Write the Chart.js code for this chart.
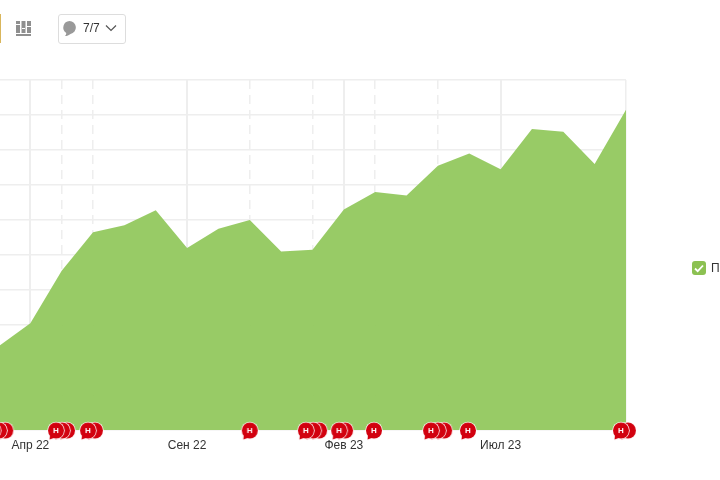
<!DOCTYPE html>
<html><head><meta charset="utf-8">
<style>
html,body{margin:0;padding:0;width:720px;height:480px;overflow:hidden;background:#fff;font-family:"Liberation Sans",Arial,sans-serif}
#wrap{position:absolute;left:-10px;top:0;width:729px;height:480px}
#accent{position:absolute;left:0;top:14px;width:1px;height:29px;background:#d9b65c}
#icon{position:absolute;left:15px;top:20px}
#btn{position:absolute;left:58px;top:14px;width:66px;height:28px;border:1px solid #ddd;border-radius:3px;box-sizing:content-box}
#btn svg{position:absolute}
#btn span{position:absolute;left:24px;top:6px;font-size:12px;color:#333}
#check{position:absolute;left:692px;top:261px;width:14px;height:14px;border-radius:3px;background:#8cc152}
#name{position:absolute;left:711px;top:261px;font-size:12px;color:#333}
</style></head><body>
<div id="wrap"><canvas id="c" width="729" height="480"></canvas></div>
<div id="accent"></div>
<svg id="icon" width="17" height="17" viewBox="0 0 17 17"><g fill="#8f8f8f"><rect x="1" y="1" width="4" height="12"/><rect x="6.500" y="1" width="4" height="12"/><rect x="12" y="1" width="4" height="12"/><rect x="1" y="14" width="15" height="2"/></g><g fill="#fff"><rect x="1" y="4" width="4" height="1"/><rect x="7" y="8" width="3" height="1"/><rect x="12" y="6" width="4" height="1"/></g></svg>
<div id="btn">
<svg style="left:3px;top:5px" width="15" height="17" viewBox="0 0 15 17"><path d="M7.500 1a6.500 6.500 0 0 1 1 12.900C7 15 5 16 3 16c1-1 1.300-2 1.200-3.100A6.500 6.500 0 0 1 7.500 1z" fill="#999"/></svg>
<span>7/7</span>
<svg style="left:46px;top:9px" width="12" height="8" viewBox="0 0 12 8"><path d="M1 1.500l5 5 5-5" fill="none" stroke="#555" stroke-width="1.200"/></svg>
</div>
<div id="check"><svg width="14" height="14" viewBox="0 0 14 14"><path d="M3 7.500l2.700 2.700L11 4.500" fill="none" stroke="#fff" stroke-width="1.800"/></svg></div>
<div id="name">П</div>
<script src="https://cdn.jsdelivr.net/npm/chart.js@4"></script>
<script>
const months = ["Мар 22","Апр 22","Май 22","Июн 22","Июл 22","Авг 22","Сен 22","Окт 22","Ноя 22","Дек 22","Янв 23","Фев 23","Мар 23","Апр 23","Май 23","Июн 23","Июл 23","Авг 23","Сен 23","Окт 23","Ноя 23"];
const values = [2.4,3.05,4.55,5.65,5.85,6.28,5.2,5.75,6.0,5.1,5.15,6.3,6.8,6.7,7.55,7.9,7.45,8.6,8.52,7.6,9.15];
const axisLabelMonths = [1,6,11,16];
const solidGridMonths = [1,6,11,16];
const dashedGridMonths = [2,3,8,10,12,14];
const edgeGridMonths = [20];
const eventMonths = [20.06,19.84,14.96,14.2,14.0,13.78,11.96,11.04,10.85,10.21,10.02,9.79,8.0,3.06,2.84,2.17,2.01,1.82,0.2,0.0,-0.2];
const eventHasLetter = [false,true,true,false,false,true,true,false,true,false,false,true,true,false,true,false,false,true,false,false,true];
const eventLevel = -0.03;

function sprite(letter){
  const s=document.createElement('canvas');s.width=20;s.height=20;
  const g=s.getContext('2d');
  g.fillStyle='#fff';g.beginPath();g.arc(10,9.500,8.700,0,Math.PI*2);g.fill();
  g.fillStyle='#d2010f';g.beginPath();g.arc(10,9.500,8,0,Math.PI*2);g.fill();
  g.beginPath();g.moveTo(4,14);g.lineTo(3.500,18.500);g.lineTo(9,16.500);g.fill();
  if(letter){g.fillStyle='#fff';g.font='bold 8px "Liberation Sans"';g.textAlign='center';g.textBaseline='middle';g.fillText('H',10,10);}
  return s;
}
const plain=sprite(false), marked=sprite(true);
const eventDots=eventMonths.map(m=>({x:m,y:eventLevel}));
const allGrid=[...solidGridMonths,...dashedGridMonths,...edgeGridMonths];

new Chart(document.getElementById('c'),{
  type:'line',
  data:{datasets:[
    {data:eventDots,showLine:false,pointStyle:eventDots.map((_,i)=>eventHasLetter[i]?marked:plain),pointRadius:8,pointHoverRadius:8,clip:false,order:0},
    {data:values.map((v,i)=>({x:i,y:v})),fill:'origin',backgroundColor:'rgba(148,201,96,0.96)',borderWidth:0,pointRadius:0,tension:0,order:1}
  ]},
  options:{
    responsive:false,animation:false,
    layout:{padding:{left:0,right:93,top:80,bottom:0}},
    plugins:{legend:{display:false},tooltip:{enabled:false}},
    scales:{
      x:{type:'linear',min:0,max:20,
        afterBuildTicks:s=>{s.ticks=allGrid.slice().sort((a,b)=>a-b).map(v=>({value:v}));},
        afterFit:s=>{s.height=50;},
        grid:{color:'#eeeeee',lineWidth:c=>solidGridMonths.includes(c.tick&&c.tick.value)?2:1.500,drawTicks:false},
        border:{display:false,dash:c=>dashedGridMonths.includes(c.tick&&c.tick.value)?[9,6]:[]},
        ticks:{autoSkip:false,maxRotation:0,padding:8,color:'#333',font:{family:'"Liberation Sans"',size:12},
          callback:v=>axisLabelMonths.includes(v)?months[v]:''}
      },
      y:{min:0,max:10,afterFit:s=>{s.width=0;},
        grid:{color:'#eeeeee',lineWidth:1.500,drawTicks:false},
        border:{display:false},
        ticks:{display:false,stepSize:1}
      }
    }
  }
});
</script>
</body></html>
